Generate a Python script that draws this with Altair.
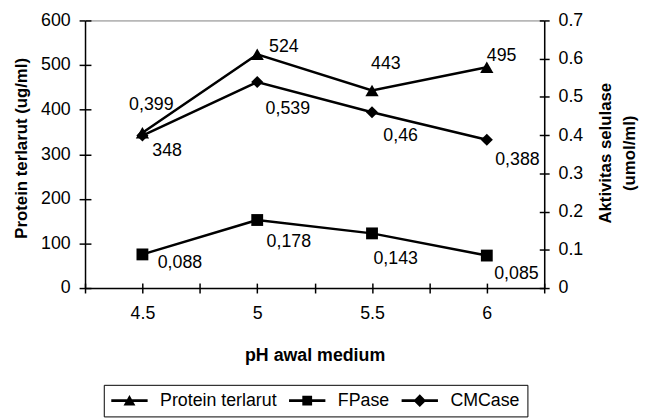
import altair as alt
import pandas as pd

# ---- data ----
ph = [4.5, 5, 5.5, 6]
protein = [348, 524, 443, 495]
fpase = [0.088, 0.178, 0.143, 0.085]
cmcase = [0.399, 0.539, 0.46, 0.388]
series_names = ["Protein terlarut", "FPase", "CMCase"]
left_ticks = [0, 100, 200, 300, 400, 500, 600]
right_ticks = [0, 0.1, 0.2, 0.3, 0.4, 0.5, 0.6, 0.7]
x_ticks = [4.25, 4.5, 4.75, 5, 5.25, 5.5, 5.75, 6, 6.25]


def fmt(v, s):
    if s == "Protein terlarut":
        return str(int(v))
    return f"{v:.3f}".rstrip("0").replace(".", ",")


rows = []
for s, vals in zip(series_names, [protein, fpase, cmcase]):
    for i, (p, v) in enumerate(zip(ph, vals)):
        rows.append({"ph": p, "series": s, "value": v, "idx": i, "label": fmt(v, s)})
df = pd.DataFrame(rows)

# ---- styling (label placement offsets, in pixels) ----
label_offsets = {
    "Protein terlarut": [(25, 18), (27, -7), (14, -27), (15, -11)],
    "FPase": [(38, 9), (32, 22), (24, 26), (30, 19)],
    "CMCase": [(9, -31), (31, 27), (29, 24), (31, 21)],
}
FONT = "Liberation Sans"
FS = 18      # horizontal texts
FS_V = 17    # rotated axis titles
W, H = 465, 271

xscale = alt.Scale(domain=[4.25, 6.25], nice=False, zero=False)
yl = alt.Scale(domain=[0, 600], nice=False, zero=True)
yr = alt.Scale(domain=[0, 0.7], nice=False, zero=True)

x_main = alt.X(
    "ph:Q", scale=xscale,
    axis=alt.Axis(values=x_ticks,
                  labelExpr="(datum.value*2)%1==0 ? format(datum.value,'~g') : ''",
                  title="pH awal medium", tickSize=5, labelPadding=12,
                  titleY=68, titleBaseline="middle", titleFontSize=FS, grid=False,
                  labelFlush=False, labelOverlap=False, orient="bottom"))
x_none = alt.X("ph:Q", scale=xscale, axis=None)

yl_axis = alt.Axis(values=left_ticks, format="d", title="Protein terlarut (ug/ml)",
                   orient="left", tickSize=6, labelPadding=9, titleX=-64, titleY=129,
                   titleAngle=270, titleAlign="center", titleBaseline="middle",
                   titleFontSize=FS_V, grid=False)
yr_axis = alt.Axis(values=right_ticks, format="~g",
                   title=["Aktivitas selulase", "(umol/ml)"],
                   orient="right", tickSize=5, labelPadding=9, titleX=62, titleY=134,
                   titleAngle=270, titleAlign="center", titleBaseline="middle",
                   titleLineHeight=24, titleFontSize=FS_V, grid=False)

y_left = alt.Y("value:Q", scale=yl, axis=yl_axis)
y_right = alt.Y("value:Q", scale=yr, axis=yr_axis)

base = alt.Chart(df)
shape_of = {"Protein terlarut": "triangle-up", "FPase": "square", "CMCase": "diamond"}
size_of = {"Protein terlarut": 180, "FPase": 144, "CMCase": 150}


def series_layers(s, x_enc, y_enc):
    sub = base.transform_filter(alt.datum.series == s)
    out = [
        sub.mark_line(color="black", strokeWidth=2.5).encode(x=x_enc, y=y_enc),
        sub.mark_point(shape=shape_of[s], filled=True, color="black", opacity=1,
                       size=size_of[s]).encode(x=x_enc, y=y_enc),
    ]
    for i, (dx, dy) in enumerate(label_offsets[s]):
        out.append(
            base.transform_filter((alt.datum.series == s) & (alt.datum.idx == i))
            .mark_text(dx=dx, dy=dy, font=FONT, fontSize=FS, color="black")
            .encode(x=x_enc, y=y_enc, text="label:N"))
    return out


# legend symbols: a filled bar (the line) plus the filled marker
BAR = "M-2.3,-0.16L2.3,-0.16L2.3,0.16L-2.3,0.16Z"
legend_paths = [
    BAR + "M-0.75,0.62L0,-0.72L0.75,0.62Z",
    BAR + "M-0.62,-0.62L0.62,-0.62L0.62,0.62L-0.62,0.62Z",
    BAR + "M-0.8,0L0,-0.8L0.8,0L0,0.8Z",
]
legend_dummy = base.mark_point(filled=True, opacity=0, fill="black").encode(
    x=x_main, y=y_left,
    shape=alt.Shape("series:N", scale=alt.Scale(domain=series_names, range=legend_paths),
                    legend=alt.Legend(orient="none", legendX=19, legendY=369,
                                      direction="horizontal", title=None,
                                      strokeColor="black", padding=7,
                                      labelFont=FONT, labelFontSize=FS, labelColor="black",
                                      symbolSize=256, symbolOpacity=1,
                                      symbolFillColor="black", symbolStrokeWidth=0,
                                      symbolOffset=10, labelOffset=22, columnPadding=11,
                                      fillColor="white")))

P = alt.layer(*series_layers("Protein terlarut", x_main, y_left), legend_dummy)
E = alt.layer(*series_layers("FPase", x_none, y_right),
              *series_layers("CMCase", x_none, y_right))

# inward halves of the crossing tick marks
T1 = base.mark_point(opacity=0).encode(
    x=alt.X("ph:Q", scale=xscale,
            axis=alt.Axis(values=x_ticks, orient="bottom", offset=-5, tickSize=5,
                          labels=False, domain=False, title=None, grid=False)),
    y=alt.Y("value:Q", scale=yl,
            axis=alt.Axis(values=left_ticks, orient="left", offset=-6, tickSize=6,
                          labels=False, domain=False, title=None, grid=False)))
T2 = base.mark_point(opacity=0).encode(
    x=x_none,
    y=alt.Y("value:Q", scale=yr,
            axis=alt.Axis(values=right_ticks, orient="right", offset=-5, tickSize=5,
                          labels=False, domain=False, title=None, grid=False)))

chart = alt.layer(P, E, T1, T2).resolve_scale(
    y="independent", x="independent", shape="independent"
).properties(
    width=W, height=H,
    autosize=alt.AutoSizeParams(type="none"),
    padding={"left": 78, "top": 10, "right": 96, "bottom": 130},
).configure_axis(
    labelFont=FONT, labelFontSize=FS, labelColor="black",
    titleFont=FONT, titleFontWeight="bold", titleColor="black",
    domainColor="black", domainWidth=1.5, tickColor="black", tickWidth=1.5,
).configure_view(stroke="#808080", strokeWidth=1)

chart.save("out.html", embed_options={"renderer": "svg", "actions": False})
